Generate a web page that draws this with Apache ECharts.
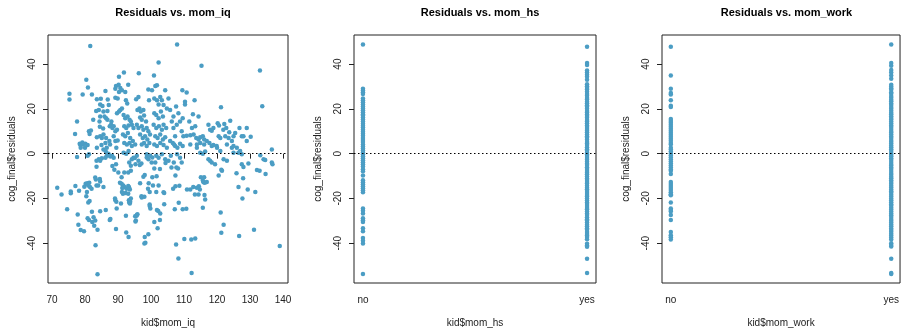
<!DOCTYPE html>
<html>
<head>
<meta charset="utf-8">
<script src="https://cdn.jsdelivr.net/npm/echarts@6/dist/echarts.min.js"></script>
<style>
  html, body { margin: 0; padding: 0; background: #fff; }
  #chart { width: 902px; height: 333px; }
</style>
</head>
<body>
<div id="chart"></div>
<script>
// residuals of the final model against mother's IQ: [mom_iq, residual]
const iqResid = [
  [75.3,26.8],[75.3,24.2],[77.6,14.4],[77.0,8.8],[78.4,4.4],[78.6,3.8],[79.4,4.1],[80.1,4.4],[77.6,-1.5],[79.3,26.4],
  [80.4,33.0],[80.9,29.6],[81.6,48.1],[82.1,26.4],[80.8,3.8],[81.2,10.0],[81.4,8.8],[81.8,10.3],[82.5,15.1],[80.8,-1.0],
  [81.2,-0.3],[79.2,5.0],[80.0,2.6],[78.7,2.6],
  [83.4,19.0],[83.6,24.3],[84.2,19.5],[84.6,16.6],[84.4,14.4],[84.6,22.0],[84.8,24.5],[86.2,28.0],[86.9,24.2],[87.2,21.7],
  [85.6,18.8],[86.8,19.0],[85.9,16.6],[86.4,15.8],[86.8,15.1],[83.6,7.3],[84.6,7.8],[85.1,7.0],[85.6,8.5],[86.4,7.0],
  [86.2,4.8],[87.4,5.6],[83.6,2.6],[85.0,3.8],[85.6,1.9],[86.6,2.6],[87.6,4.1],[84.2,-2.5],[84.6,-3.2],[85.1,-2.1],
  [86.3,0.9],[87.1,0.0],[86.6,-1.0],[87.9,12.9],[88.3,11.4],[88.7,12.2],[89.2,10.0],[89.7,10.7],[89.2,29.0],[89.4,30.2],
  [90.2,30.8],[90.7,29.3],[90.3,27.5],[89.2,25.0],[89.9,24.6],[90.3,34.4],[91.8,36.3],[89.7,18.0],[90.3,18.8],[90.7,19.5],
  [91.2,20.2],[88.7,7.8],[89.2,5.6],[89.9,5.9],[89.5,2.6],[88.2,-1.0],[88.7,-1.8],[89.4,-4.7],[88.3,-5.5],[85.3,21.3],
  [88.0,14.4],[87.5,12.2],[84.5,12.0],[85.5,11.2],[83.5,-3.2],[83.5,-5.9],[86.2,-1.8],[87.2,-0.7],[87.7,-1.3],
  [91.2,28.3],[92.2,27.5],[92.4,23.9],[93.1,30.8],[92.8,22.4],[91.7,17.3],[92.2,15.8],[92.9,16.6],[93.5,15.1],[93.9,14.4],
  [91.9,12.2],[92.5,11.4],[93.2,12.6],[94.2,12.9],[94.7,11.4],[91.5,8.5],[92.2,7.8],[93.0,9.2],[93.7,7.0],[94.5,5.6],
  [91.9,4.8],[92.7,4.1],[93.5,4.8],[94.2,3.4],[95.2,4.1],[91.7,0.4],[92.5,0.0],[93.2,1.2],[94.2,-2.5],[94.7,-1.8],
  [95.7,-1.0],[96.2,-3.2],[96.3,35.9],[95.5,24.3],[96.2,25.3],[95.9,19.5],[96.5,20.2],[96.9,18.8],[97.7,19.5],[96.7,16.1],
  [97.2,15.1],[97.9,17.0],[98.5,14.4],[95.7,12.9],[96.2,11.4],[97.2,12.2],[97.7,10.7],[98.7,11.4],[99.2,10.0],[96.7,8.5],
  [97.5,7.0],[98.2,7.8],[98.9,6.3],[99.7,8.5],[97.2,4.1],[97.9,4.8],[98.7,3.4],[99.5,4.8],[99.2,28.6],[99.4,23.9],
  [100.9,34.9],[100.3,28.3],[101.3,30.2],[101.8,30.5],[101.0,24.6],[101.8,23.9],[102.3,22.0],[98.7,-0.3],[99.7,-1.0],[99.2,-2.5],
  [100.2,-4.0],[93.4,-4.0],[93.9,-5.4],[95.1,-2.0],[95.3,-4.7],[96.6,-5.1],[97.1,-4.4],[98.7,-1.7],[100.4,-1.7],[101.3,-4.0],
  [102.3,40.7],[102.8,25.3],[103.3,23.9],[103.8,21.7],[104.3,28.3],[104.8,20.2],[101.0,18.0],[101.6,17.3],[102.3,15.8],[103.0,18.8],
  [103.6,16.6],[100.8,12.9],[101.6,11.4],[102.4,12.2],[103.3,10.7],[103.8,12.9],[104.6,11.4],[101.3,7.8],[102.0,7.0],[102.8,8.5],
  [103.6,6.3],[104.3,7.3],[101.0,4.1],[101.8,3.4],[102.8,4.8],[103.8,3.8],[104.8,2.6],[101.6,-1.0],[102.3,-1.8],[103.3,-0.3],
  [104.3,-2.5],[105.3,-3.2],[105.3,24.6],[105.8,19.5],[106.3,14.4],[106.8,11.4],[107.3,7.8],[107.9,48.8],[106.8,16.6],[107.6,21.0],
  [108.3,18.0],[108.8,14.4],[109.3,10.0],[105.8,5.6],[106.6,4.8],[107.3,3.4],[108.0,2.6],[108.8,4.4],[109.6,3.4],[107.9,-0.3],
  [108.8,-1.8],[109.3,-4.0],[109.5,28.3],[110.8,27.3],[110.3,22.0],[109.6,15.8],[110.3,23.2],[107.8,12.9],[106.0,-1.0],[104.4,-4.2],
  [106.9,-4.0],
  [113.2,23.9],[114.4,16.6],[115.3,39.3],[112.9,8.5],[113.7,7.0],[114.4,6.3],[114.9,7.3],[115.7,7.8],[116.1,6.3],[113.9,4.1],
  [114.9,4.8],[116.1,4.1],[114.9,0.4],[115.7,0.0],[116.4,0.9],[117.4,12.9],[117.9,10.7],[116.9,5.6],[117.7,4.8],[118.4,3.4],
  [118.9,3.8],[117.4,-2.5],[117.9,-3.2],[118.4,-4.0],[119.4,-4.7],[120.2,13.6],[118.9,11.4],[121.2,20.7],[120.5,7.8],[121.0,7.0],
  [120.0,2.6],[121.0,1.2],[111.6,14.4],[112.4,11.4],[113.4,12.2],[112.7,17.6],[109.8,7.8],[110.8,8.0],[111.9,8.2],[107.0,4.1],
  [111.9,4.1],[113.9,2.6],[119.9,3.4],[123.0,4.1],[124.5,2.6],[125.0,0.4],[127.5,-0.3],[120.6,12.6],[118.4,10.2],
  [122.2,13.2],[122.8,11.4],[124.0,14.7],[122.5,7.8],[123.5,7.0],[124.5,5.6],[122.0,-2.5],[123.0,-3.2],[125.0,7.8],[125.5,9.2],
  [125.0,3.4],[126.0,2.6],[126.8,11.4],[127.5,7.8],[128.0,7.8],[129.0,11.4],[129.0,5.6],[126.5,0.4],[127.0,1.2],[127.5,-4.7],
  [128.0,-6.0],[129.5,-4.4],[121.9,10.7],[123.7,9.5],[130.2,7.5],
  [133.0,37.1],[133.7,21.2],[133.1,-0.7],[134.1,-2.5],[134.6,-2.9],[136.6,1.9],[136.6,-4.0],[136.8,-4.7],
  // below -6
  [71.6,-15.2],[72.9,-18.3],[74.6,-24.9],[75.7,-16.9],[75.7,-17.7],[77.1,-14.5],[78.2,-16.6],[77.8,-27.2],[78.0,-31.8],[78.7,-34.1],
  [79.7,-34.7],[79.8,-14.8],[80.2,-13.5],[80.7,-13.2],[81.0,-14.2],[81.5,-14.9],[82.0,-15.7],[81.3,-13.0],[80.6,-17.1],[80.4,-19.0],
  [81.4,-21.2],[81.0,-21.8],
  [80.8,-28.9],[81.2,-29.6],[82.2,-30.6],[82.6,-28.4],[83.1,-29.9],[82.1,-26.0],[82.8,-32.2],[83.8,-34.0],[83.2,-40.9],[83.8,-53.9],
  [83.1,-10.7],[83.3,-11.6],[84.5,-11.3],[84.6,-12.4],[83.5,-14.2],[84.0,-14.2],[85.6,-14.9],[84.6,-25.7],[86.3,-25.2],[87.5,-29.6],
  [87.7,-29.2],[88.9,-7.2],[90.1,-8.4],[91.1,-10.6],[91.9,-8.4],[89.1,-20.1],[89.2,-20.8],[89.5,-21.5],[90.9,-22.3],[89.6,-24.5],
  [89.4,-33.7],
  [90.6,-13.0],[91.1,-13.5],[91.6,-14.2],[91.9,-14.9],[91.3,-15.4],[92.6,-15.7],[93.1,-14.5],[93.3,-14.9],[92.3,-17.6],[91.5,-17.9],
  [91.2,-17.1],[92.4,-27.8],[93.3,-20.8],[93.4,-21.8],[93.9,-20.0],[93.7,-21.5],[92.5,-35.2],[93.2,-37.2],[93.1,-8.4],[93.9,-7.6],
  [93.4,-15.4],[93.6,-16.0],[93.1,-17.9],[93.6,-22.3],[95.2,-28.0],[95.4,-29.9],[95.7,-27.4],[95.6,-27.7],[95.9,-27.1],[95.3,-30.3],
  [96.7,-13.2],[97.2,-19.6],[98.0,-19.3],[97.1,-19.0],[97.7,-10.3],[98.1,-9.5],[99.3,-13.2],[99.6,-17.1],[99.1,-15.7],[98.1,-37.2],
  [98.3,-39.8],[98.0,-40.1],[99.2,-36.0],[99.6,-23.4],[99.8,-24.5],[99.6,-22.7],
  [100.4,-10.5],[101.7,-10.1],[102.7,-6.9],[101.0,-6.6],[100.6,-14.2],[101.6,-17.1],[104.0,-17.6],[104.0,-22.6],[102.2,-25.6],[102.8,-26.8],
  [102.7,-29.6],[101.0,-30.6],[102.0,-33.3],[102.3,-14.2],[103.8,-17.3],[101.8,-25.2],[106.2,-6.2],[107.7,-6.2],[108.2,-6.6],[107.4,-9.8],
  [106.7,-15.7],[107.4,-14.6],[108.6,-14.4],[108.4,-22.0],[107.2,-24.8],[109.6,-24.8],[110.7,-24.6],[110.9,-16.0],[107.6,-40.6],[108.3,-46.9],
  [110.1,-38.1],[112.2,-38.4],[113.4,-37.9],[112.3,-53.3],
  [111.9,-16.0],[112.8,-14.9],[113.9,-15.2],[114.5,-14.6],[114.8,-16.0],[114.4,-18.3],[113.3,-18.3],[115.7,-12.0],[115.9,-12.8],[116.1,-10.5],
  [116.3,-13.0],[116.9,-12.7],[115.1,-10.5],[116.2,-18.5],[116.4,-20.5],[115.7,-24.2],
  [121.3,-7.2],[120.5,-9.8],[121.5,-7.6],[125.9,-8.8],[127.9,-11.0],[126.5,-14.9],[129.3,-16.0],[131.6,-17.1],[127.7,-20.1],
  [132.1,-7.3],[132.9,-7.6],[134.7,-9.1],[121.1,-26.3],[122.0,-31.8],[121.3,-35.4],[126.7,-36.8],[131.2,-34.0],[139.0,-41.3]
];

// residuals split by mother's high school completion
const hsNo = [
  48.8, 29.0, 28.2, 27.4, 26.6, 24.6, 23.9, 23.0, 22.0, 21.1, 20.2, 19.4, 18.5, 17.6, 17.0,
  16.1, 15.2, 14.4, 13.4, 12.5, 11.7, 10.7, 9.8, 8.9, 8.0, 7.0, 6.1, 5.2, 4.1, 3.2, 2.3,
  1.4, 0.5, -0.3, -1.2, -2.1, -3.0, -3.9, -4.8, -5.8, -7.0, -7.9, -9.8, -11.9, -12.8, -13.7,
  -14.6, -15.5, -16.4, -17.3, -24.5, -25.5, -26.7, -28.9, -29.8, -30.5, -33.3, -34.7,
  -37.7, -38.9, -40.1, -53.8
];
const hsYes = [
  47.8, 40.5, 39.6, 37.1, 36.3, 35.2, 34.3, 33.0, 31.0, 30.1, 29.3, 28.7, 27.6, 26.6, 25.9,
  24.8, 24.2, 23.2, 22.5, 21.6, 20.9, 20.0, 19.1, 18.4, 17.5, 16.8, 16.0, 15.0, 14.4, 13.6,
  12.6, 11.9, 11.0, 10.2, 9.5, 8.5, 7.8, 7.1, 6.2, 5.2, 4.5, 3.8, 2.9, 2.0, 1.3, 0.4, -0.4,
  -1.1, -2.0, -2.7, -3.6, -4.5, -5.1, -6.1, -6.9, -7.8, -8.5, -9.2, -10.2, -11.1, -11.8,
  -12.7, -13.4, -14.3, -15.2, -15.9, -16.7, -17.6, -18.5, -19.2, -20.0, -20.9, -21.8, -22.5,
  -23.4, -24.3, -24.9, -25.9, -26.8, -27.4, -28.4, -29.3, -29.9, -30.8, -31.8, -32.4, -33.3,
  -34.0, -35.0, -35.9, -36.6, -37.3, -38.3, -40.3, -41.0, -41.6, -47.0, -53.3
];

// residuals split by whether mother worked
const workNo = [
  47.8, 34.9, 29.0, 27.1, 26.4, 23.9, 21.4, 20.8, 15.5, 14.6, 13.8, 12.9, 12.0, 11.1, 10.2,
  9.3, 8.4, 7.5, 6.6, 5.7, 4.8, 4.1, 2.6, 1.8, 0.9, 0.1, -0.8, -1.7, -2.6, -3.5, -4.4, -5.3,
  -6.2, -7.1, -7.6, -9.1, -12.7, -13.6, -14.5, -15.4, -16.3, -17.2, -18.1, -18.6, -21.8,
  -24.5, -25.2, -25.9, -27.4, -29.6, -35.0, -36.5, -37.4, -38.4
];
const workYes = [
  48.8, 40.5, 39.3, 37.4, 36.3, 34.9, 33.5, 30.8, 30.0, 29.2, 28.5, 27.4, 26.7, 25.8, 25.0,
  24.1, 23.4, 22.4, 21.7, 20.8, 20.1, 19.2, 18.3, 17.6, 16.7, 15.9, 15.2, 14.3, 13.5, 12.6,
  11.9, 11.0, 10.1, 9.4, 8.6, 7.7, 7.0, 6.1, 5.3, 4.5, 3.6, 2.9, 2.0, 1.2, 0.3, -0.5, -1.2,
  -2.1, -2.9, -3.7, -4.6, -5.3, -6.2, -6.9, -7.8, -8.6, -9.4, -10.3, -11.0, -11.9, -12.7,
  -13.5, -14.3, -15.1, -16.0, -16.8, -17.5, -18.4, -19.2, -20.1, -20.8, -21.7, -22.6, -23.3,
  -24.2, -25.0, -25.8, -26.7, -27.5, -28.3, -29.2, -30.0, -30.8, -31.7, -32.5, -33.4, -34.1,
  -34.9, -35.8, -36.6, -37.5, -38.4, -40.0, -40.8, -41.5, -47.0, -53.3, -53.8
];

const iqTicks = [70, 80, 90, 100, 110, 120, 130, 140];
const residTicks = [-40, -20, 0, 20, 40];
const yesNo = ['no', 'yes'];
const panelTitles = ['Residuals vs. mom_iq', 'Residuals vs. mom_hs', 'Residuals vs. mom_work'];
const xNames = ['kid$mom_iq', 'kid$mom_hs', 'kid$mom_work'];

const dotColor = '#4b9dc4';
const inkColor = '#222';
const font = 'Liberation Sans, Arial, Helvetica, sans-serif';

const chart = echarts.init(document.getElementById('chart'), null, { renderer: 'canvas' });

const grids = [
  { left: 48, top: 35, width: 240, height: 252 },
  { left: 354, top: 35, width: 242, height: 252 },
  { left: 662, top: 35, width: 239, height: 252 }
].map(g => Object.assign(g, { show: true, borderColor: inkColor, borderWidth: 1, backgroundColor: 'transparent' }));

function xAxisFor(i) {
  const base = {
    gridIndex: i,
    type: 'value',
    name: xNames[i],
    nameLocation: 'middle',
    nameGap: 35,
    nameTextStyle: { fontFamily: font, fontSize: 10, color: inkColor },
    axisLine: { show: false },
    axisTick: { show: true, length: 5, lineStyle: { color: inkColor } },
    splitLine: { show: false },
    axisLabel: { fontFamily: font, fontSize: 10, color: inkColor, margin: 12 }
  };
  if (i === 0) {
    base.min = 68.8; base.max = 141.5;
    base.axisTick.customValues = iqTicks;
    base.axisLabel.customValues = iqTicks;
  } else {
    base.min = 0.96; base.max = 2.04;
    base.axisTick.customValues = [1, 2];
    base.axisLabel.customValues = [1, 2];
    base.axisLabel.formatter = v => yesNo[Math.round(v) - 1];
  }
  return base;
}

function yAxisFor(i) {
  return {
    gridIndex: i,
    type: 'value',
    min: -57.8,
    max: 53.0,
    name: 'cog_final$residuals',
    nameLocation: 'middle',
    nameRotate: 90,
    nameGap: 31,
    nameTextStyle: { fontFamily: font, fontSize: 10, color: inkColor },
    axisLine: { show: false },
    axisTick: { show: true, length: 5, customValues: residTicks, lineStyle: { color: inkColor } },
    splitLine: { show: false },
    axisLabel: { fontFamily: font, fontSize: 10, color: inkColor, rotate: 90, margin: 11, customValues: residTicks }
  };
}

const zeroLine = {
  silent: true,
  symbol: ['none', 'none'],
  label: { show: false },
  lineStyle: { color: '#000', width: 1.2, type: [1.5, 2.5] },
  data: [{ yAxis: 0 }]
};

function scatter(i, data) {
  return {
    type: 'scatter',
    xAxisIndex: i,
    yAxisIndex: i,
    symbolSize: 4.5,
    itemStyle: { color: dotColor, opacity: 1 },
    data: data,
    markLine: zeroLine
  };
}

const option = {
  animation: false,
  title: panelTitles.map((t, i) => ({
    text: t,
    left: grids[i].left + grids[i].width / 2,
    top: 2,
    textAlign: 'center',
    textStyle: { fontFamily: font, fontSize: 11, fontWeight: 'bold', color: '#000' }
  })),
  grid: grids,
  xAxis: [0, 1, 2].map(xAxisFor),
  yAxis: [0, 1, 2].map(yAxisFor),
  series: [
    scatter(0, iqResid),
    scatter(1, hsNo.map(r => [1, r]).concat(hsYes.map(r => [2, r]))),
    scatter(2, workNo.map(r => [1, r]).concat(workYes.map(r => [2, r])))
  ]
};

chart.setOption(option);
</script>
</body>
</html>
